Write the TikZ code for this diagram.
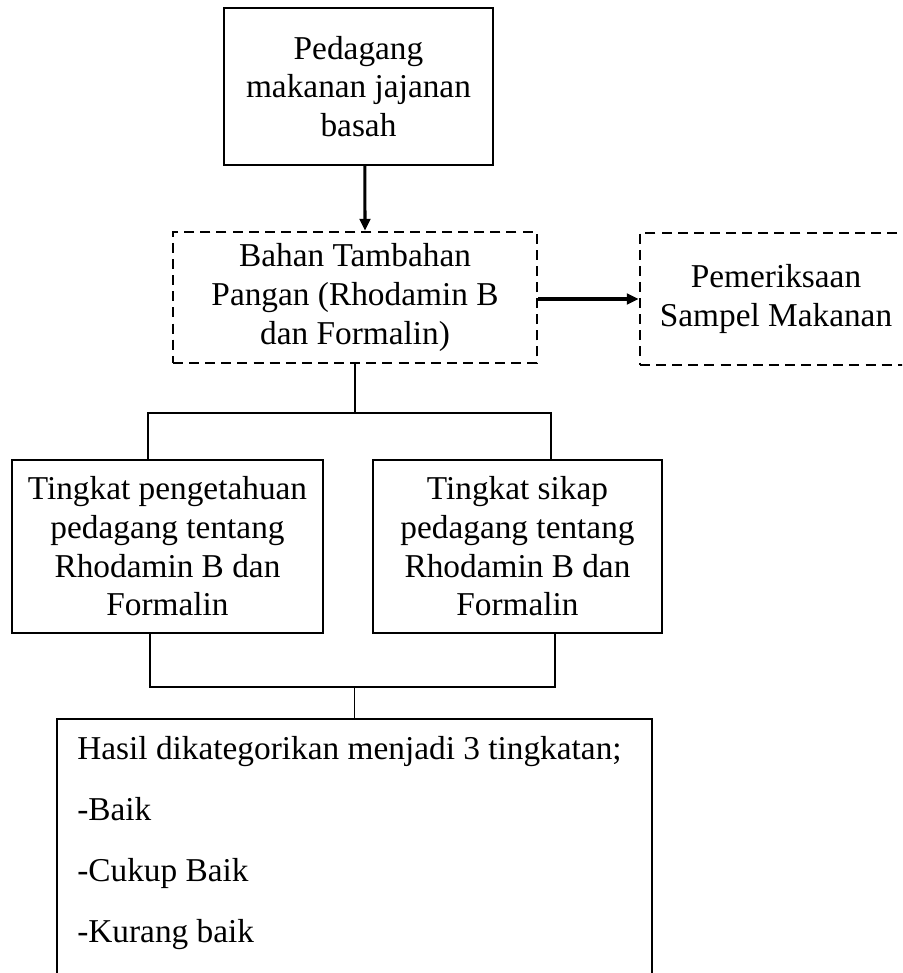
\documentclass[tikz,border=0pt]{standalone}
\usepackage{fontspec}
\setmainfont{Liberation Serif}
\usetikzlibrary{positioning,arrows.meta}

\begin{document}
\begin{tikzpicture}[
    x=0.36pt,y=-0.36pt,
    box/.style={rectangle,draw=black,line width=0.9pt,align=center,
                font=\fontsize{12}{13.9}\selectfont,inner sep=0pt},
    dashbox/.style={box,dash pattern=on 3.6pt off 2.2pt},
    arrow/.style={-{Triangle[length=4.3pt,width=3.8pt]},line width=1.1pt},
    link/.style={line width=0.6pt}
]
\clip (0,0) rectangle (902,973);

% Pedagang
\node[box,minimum width=96.84pt,minimum height=56.52pt] (pedagang) at (358.5,86.5)
    {Pedagang\\makanan jajanan\\basah};

% Bahan Tambahan Pangan
\node[dashbox,minimum width=131.04pt,minimum height=47.16pt] (btp) at (355,297.5)
    {Bahan Tambahan\\Pangan (Rhodamin B\\dan Formalin)};

% Pemeriksaan sampel
\node[dashbox,minimum width=97.92pt,minimum height=47.52pt] (periksa) at (776,299)
    {Pemeriksaan\\Sampel Makanan};

% Tingkat pengetahuan / sikap
\node[box,minimum width=111.96pt,minimum height=62.28pt] (tahu) at (167.5,546.5)
    {Tingkat pengetahuan\\pedagang tentang\\Rhodamin B dan\\Formalin};
\node[box,minimum width=104.04pt,minimum height=62.28pt] (sikap) at (517.5,546.5)
    {Tingkat sikap\\pedagang tentang\\Rhodamin B dan\\Formalin};

% Hasil
\node[box,minimum width=214.2pt,minimum height=100.8pt] (hasil) at (354.5,859) {};
\node[below right=6.48pt and 7.56pt of hasil.north west,anchor=north west,
      align=left,inner sep=0pt,font=\fontsize{12}{22}\selectfont] (hasiltext)
    {Hasil dikategorikan menjadi 3 tingkatan;\\-Baik\\-Cukup Baik\\-Kurang baik};

% Arrows
\draw[arrow] ([xshift=2.3pt]pedagang.south) -- ([xshift=3.6pt]btp.north);
\draw[arrow] (btp.east |- periksa.west) -- (periksa.west);

% Branch lines
\coordinate (joinL) at (148,413);
\coordinate (joinR) at (551,413);
\coordinate (meetL) at (150,687);
\coordinate (meetR) at (555,687);
\draw[link] (btp.south) -- (btp.south |- joinL);
\draw[link] (tahu.north -| joinL) -- (joinL) -- (joinR) -- (sikap.north -| joinR);
\draw[link] (tahu.south -| meetL) -- (meetL) -- (meetR) -- (sikap.south -| meetR);
\draw[link] (hasil.north) -- (hasil.north |- meetL);

\end{tikzpicture}
\end{document}
